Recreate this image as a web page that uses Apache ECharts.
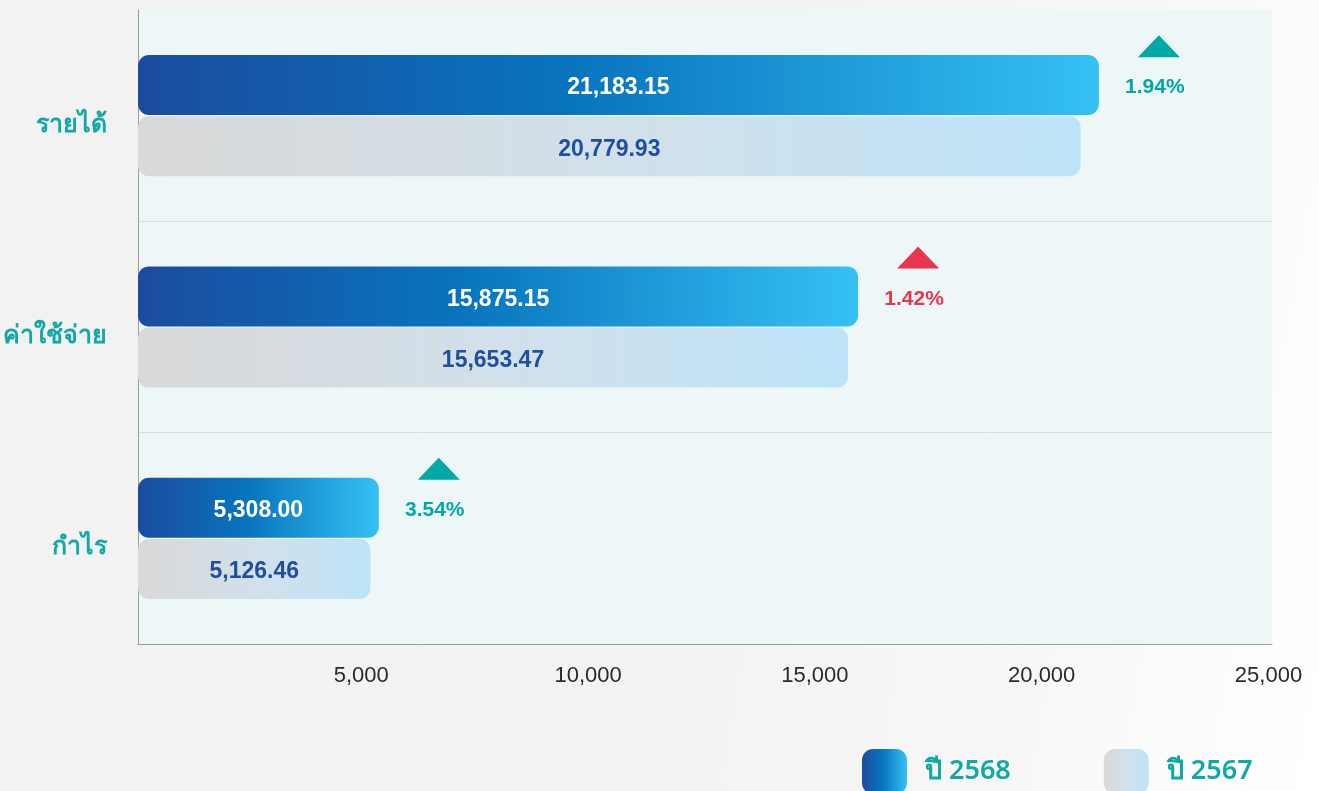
<!DOCTYPE html>
<html>
<head>
<meta charset="utf-8">
<script src="https://cdn.jsdelivr.net/npm/echarts@6/dist/echarts.min.js"></script>
<style>
  html, body { margin: 0; padding: 0; }
  #chart {
    width: 1319px; height: 791px;
    background: linear-gradient(100deg, #f2f2f2 0%, #f3f3f3 55%, #f8f8f8 80%, #ffffff 100%);
  }
</style>
</head>
<body>
<div id="chart"></div>
<script>
// Categories (top to bottom)
const categories = ['รายได้', 'ค่าใช้จ่าย', 'กำไร'];
// Series names
const seriesNames = ['ปี 2568', 'ปี 2567'];
// Values per year
const values2568 = [21183.15, 15875.15, 5308.00];
const values2567 = [20779.93, 15653.47, 5126.46];
// Colour of the year-on-year change marker per category
const trendColors = ['#00a9a5', '#e8364f', '#00a9a5'];
// X-axis range
const xMin = 0, xMax = 25000, xStep = 5000;

const fmt = v => v.toLocaleString('en-US', { minimumFractionDigits: 2, maximumFractionDigits: 2 });
const changePct = values2568.map((v, i) => ((v / values2567[i] - 1) * 100).toFixed(2) + '%');

const grad = (stops) => ({
  type: 'linear', x: 0, y: 0, x2: 1, y2: 0,
  colorStops: stops.map(([o, c]) => ({ offset: o, color: c }))
});
const blueGrad = grad([[0, '#1b4c9e'], [0.45, '#0874bd'], [1, '#35c1f3']]);
const greyGrad = grad([[0, '#d9d9d9'], [0.5, '#d2e0ea'], [1, '#bee4f9']]);

const chart = echarts.init(document.getElementById('chart'), null, { renderer: 'canvas' });

chart.setOption({
  backgroundColor: 'transparent',
  animation: false,
  grid: {
    left: 138, right: 47, top: 10, bottom: 147,
    show: true, backgroundColor: '#eef7f8', borderWidth: 0
  },
  legend: {
    data: seriesNames,
    left: 862, top: 749,
    padding: 0,
    itemWidth: 45, itemHeight: 45, itemGap: 93,
    icon: 'roundRect',
    textStyle: {
      color: '#12a9a4', fontSize: 27, fontWeight: 600,
      fontFamily: '"Noto Sans", sans-serif',
      padding: [0, 0, 0, 13]
    }
  },
  xAxis: {
    type: 'value',
    min: xMin, max: xMax, interval: xStep,
    axisLine: { show: true, lineStyle: { color: '#9c9c9c', width: 1 } },
    axisTick: { show: false },
    splitLine: { show: false },
    axisLabel: {
      showMinLabel: false,
      color: '#2b2b2b', fontSize: 22,
      fontFamily: '"Liberation Sans", Arial, sans-serif',
      margin: 21, padding: [0, 7, 0, 0],
      formatter: v => v.toLocaleString('en-US')
    }
  },
  yAxis: {
    type: 'category',
    data: categories,
    inverse: true,
    axisLine: { show: true, lineStyle: { color: '#9c9c9c', width: 1 } },
    axisTick: { show: false },
    splitLine: { show: true, showMinLine: false, showMaxLine: false, lineStyle: { color: '#d6dede', width: 1 } },
    axisLabel: {
      color: '#12a9a4', fontSize: 25, fontWeight: 'bold',
      fontFamily: '"Noto Sans", sans-serif',
      margin: 31, verticalAlign: 'top', lineHeight: 18
    }
  },
  series: [
    {
      name: seriesNames[0],
      type: 'bar',
      data: values2568,
      barWidth: 60,
      barGap: '2%',
      itemStyle: { color: blueGrad, borderRadius: 11 },
      label: {
        show: true, position: 'inside', offset: [0, 3],
        color: '#ffffff', fontSize: 23, fontWeight: 'bold',
        fontFamily: '"Liberation Sans", Arial, sans-serif',
        formatter: p => fmt(p.value)
      }
    },
    {
      name: seriesNames[1],
      type: 'bar',
      data: values2567,
      barWidth: 60,
      barGap: '2%',
      itemStyle: { color: greyGrad, borderRadius: 11 },
      label: {
        show: true, position: 'inside', offset: [0, 3],
        color: '#1f4f9d', fontSize: 23, fontWeight: 'bold',
        fontFamily: '"Liberation Sans", Arial, sans-serif',
        formatter: p => fmt(p.value)
      }
    },
    {
      // Change marker: triangle and percentage next to the end of each 2568 bar
      type: 'custom',
      data: values2568.map((v, i) => [v, i]),
      encode: { x: 0, y: 1 },
      silent: true,
      z: 5,
      renderItem: (params, api) => {
        const i = api.value(1);
        const p = api.coord([api.value(0), i]);
        const color = trendColors[i];
        const cx = p[0] + 60;
        return {
          type: 'group',
          children: [
            {
              type: 'polygon',
              shape: { points: [[cx, p[1] - 80.5], [cx + 21, p[1] - 58.5], [cx - 21, p[1] - 58.5]] },
              style: { fill: color }
            },
            {
              type: 'text',
              style: {
                text: changePct[i],
                x: p[0] + 56, y: p[1] - 28,
                align: 'center', verticalAlign: 'middle',
                fill: color, fontSize: 21, fontWeight: 'bold',
                fontFamily: '"Liberation Sans", Arial, sans-serif'
              }
            }
          ]
        };
      }
    }
  ]
});
</script>
</body>
</html>
